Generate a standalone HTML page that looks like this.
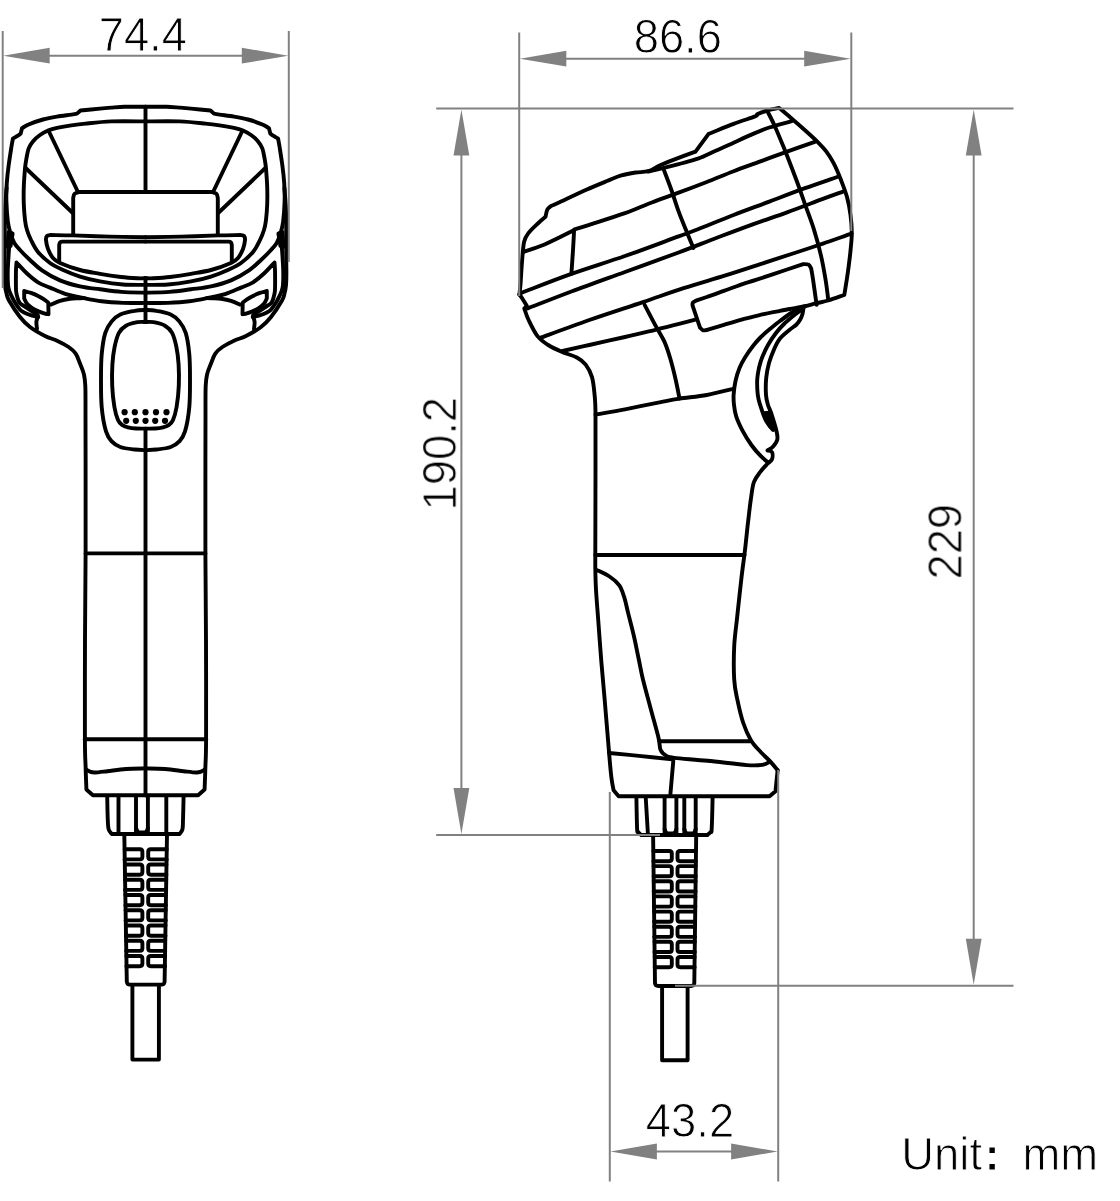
<!DOCTYPE html>
<html lang="en">
<head>
<meta charset="utf-8">
<title>Scanner dimensions</title>
<style>
html,body{margin:0;padding:0;background:#fff;}
body{width:1120px;height:1201px;overflow:hidden;}
svg{display:block;}
.ink path,.ink line,.ink rect{fill:none;stroke:#000;stroke-width:3.9;stroke-linecap:round;stroke-linejoin:round;}
.ink .fill{fill:#000;stroke:none;}
.ink circle{fill:#000;stroke:none;}
.dim line,.dim path.ln{fill:none;stroke:#818181;stroke-width:2.0;}
.dim polygon{fill:#818181;stroke:none;}
text{font-family:"Liberation Sans","Noto Sans CJK SC",sans-serif;font-size:45.4px;fill:#000;stroke:#fff;stroke-width:0.9px;}
</style>
</head>
<body>
<svg width="1120" height="1201" viewBox="0 0 1120 1201">
<rect width="1120" height="1201" fill="#fff"/>
<g class="ink" id="front">
<g id="fl">
<path d="M145.5 106.7 C143.8 106.7 138.5 106.7 135 106.7 C131.5 106.7 128.1 106.7 124.3 106.8 C120.5 106.9 116 107.3 112 107.6 C108 107.9 105.2 108.1 100 108.6 C94.8 109.1 83.8 110.2 80.5 110.5 L80.5 110.5 L77 113.6 L77 113.6 C76.1 113.8 74.7 114.1 71.4 114.6 C68.1 115.1 61.7 115.8 57 116.6 C52.3 117.4 47.7 118.2 43 119.5 C38.3 120.8 32.1 123 28.6 124.5 C25.1 126 23.1 127.6 22 128.2 L22 128.2 L20.7 133.6 L20.7 133.6 C20.2 133.9 19.2 134.9 17.9 135.7 C16.6 136.5 13.7 138.1 12.9 138.6 L12.9 138.6 C12.7 140 12.1 142.5 11.4 147 C10.7 151.5 9.4 159.7 8.6 165.7 C7.8 171.7 7.2 177.1 6.8 183 C6.4 188.9 6.2 194.9 6.4 201.4 C6.6 207.9 7.2 216.6 7.9 222 C8.6 227.4 9.6 230.5 10.7 234 C11.8 237.5 12.8 240.3 14.3 243 C15.9 245.7 17.4 247.2 20 250 C22.6 252.8 26.3 256.6 30 260 C33.7 263.4 37 266.9 42 270.3 C47 273.7 53.7 277.7 60 280.4 C66.3 283.1 73.3 284.9 80 286.4 C86.7 287.9 93.1 288.4 100 289.3 C106.9 290.2 113.8 291.3 121.4 291.9 C129 292.5 141.5 292.6 145.5 292.7"/>
<path d="M145.5 121.4 C139.8 121.4 121.4 121 111.4 121.4 C101.4 121.8 92.4 122.9 85.7 123.6 C79 124.3 76.2 124.7 71.4 125.4 C66.6 126.1 60.8 127.1 57 127.9 C53.2 128.7 51.4 129.1 48.6 130.3 C45.8 131.5 42.6 133.2 40 135 C37.4 136.8 34.8 139.1 32.9 141.4 C31 143.7 29.7 145.7 28.6 148.6 C27.5 151.5 27 155.3 26.4 158.6 C25.8 161.9 25.4 163.9 25 168.6 C24.6 173.3 24 181.1 23.8 187 C23.6 192.9 23.6 198.8 23.8 204.3 C24 209.8 24.5 215.7 25 220 C25.5 224.3 26 226.7 27 230 C28 233.3 29.2 236.3 31 240 C32.8 243.7 34.8 248.2 38 252 C41.2 255.8 46 260.1 50 263 C54 265.9 57 267.2 62 269.5 C67 271.8 73.7 274.6 80 276.6 C86.3 278.6 92.8 280.1 100 281.4 C107.2 282.7 115.4 283.9 123 284.5 C130.6 285.1 141.8 284.8 145.5 284.9"/>
<path d="M6.6 188 C6.4 190 5.9 196 5.6 200 C5.3 204 5.1 207.7 5 212 C4.9 216.3 4.8 219.7 4.8 226 C4.8 232.3 4.8 242.2 4.8 250 C4.8 257.8 4.6 267.2 4.6 273 C4.6 278.8 4.7 281.7 5 285 C5.3 288.3 5.7 290.4 6.4 293 C7.1 295.6 6.7 296.5 9 300.5 C11.3 304.5 16.5 312.6 20 317 C23.5 321.4 25.8 323.8 30 327 C34.2 330.2 40.5 333.7 45 336 C49.5 338.3 53.1 338.9 57 340.7 C60.9 342.5 65.5 344.9 68.6 347 C71.7 349.1 73.8 350.7 75.7 353.6 C77.7 356.5 78.9 360.9 80.3 364.3 C81.7 367.8 83.1 370.7 83.9 374.3 C84.7 377.9 85 379 85.3 385.7 C85.6 392.4 85.5 398.6 85.5 414.3 C85.5 430 85.6 456.9 85.6 480 C85.6 503.1 85.7 526.3 85.6 553 C85.5 579.7 85.1 609.2 85 640 C84.9 670.8 84.8 716.9 84.9 738 C85 759.1 85.3 757.8 85.6 766.4 C85.8 775 86.3 785.6 86.4 789.5 L86.4 789.5 L92.9 795.3 L145.5 795.3"/>
<path d="M11 233 C10.7 235 9.8 241.3 9.4 245 C9 248.7 8.8 251.7 8.6 255 C8.4 258.3 8.2 261.7 8 265 C7.8 268.3 7.7 271.7 7.7 275 C7.7 278.3 7.8 282.4 8 285 C8.2 287.6 8.6 288.7 9.2 290.5 C9.8 292.3 10.6 294.1 11.5 296 C12.4 297.9 13.1 299.4 14.5 301.7 C15.9 304 18.5 307.9 20.1 309.7 C21.7 311.5 22.1 311.5 24.1 312.5 C26.1 313.5 29.9 314.9 32.2 315.7 C34.6 316.4 37.2 316.8 38.2 317"/>
<path d="M8.6 232 L12.6 233.6 L10.6 246 L7.6 247 Z"/>
<path d="M37.8 315 C36.9 314.4 34.1 312.6 32.2 311.4 C30.3 310.2 28.5 309 26.5 307.6 C24.5 306.2 21.5 304.7 20.1 303.3 C18.7 301.9 18.6 301.2 18 299.3 C17.4 297.4 16.6 295.2 16.2 292 C15.8 288.8 15.9 283.7 15.9 280 C15.9 276.3 15.9 272.9 16 270 C16.1 267.1 16.4 263.8 16.5 262.5 L16.5 262.5 C18.2 264.3 23.4 270.2 27 273.5 C30.6 276.8 34.2 279.9 38 282.3 C41.8 284.7 45.3 285.6 50 287.6 C54.7 289.6 61 292.6 66 294.2 C71 295.8 74.3 296.1 80.3 297.3 C86.2 298.5 94.6 300.4 101.7 301.3 C108.8 302.2 115.8 302.6 123.1 302.9 C130.4 303.2 141.8 302.9 145.5 302.9"/>
<path d="M84 298 C83 298.1 80.3 298.2 78 298.3 C75.7 298.4 73 298.4 70 298.8 C67 299.2 63.2 299.8 60 300.8 C56.8 301.8 52.5 304 51 304.6"/>
<path d="M24.2 291 C25.3 291.3 28.6 292 31 292.9 C33.4 293.8 36.4 295.1 38.6 296.2 C40.8 297.3 42.4 298.3 44 299.4 C45.6 300.5 47.6 302.1 48.3 302.7 L48.3 302.7 L48.5 314.2 L48.5 314.2 C48 314.1 47.4 314.3 45.8 313.8 C44.1 313.3 40.9 312.3 38.6 311.4 C36.3 310.4 34.2 309.4 32.2 308.1 C30.2 306.8 28.1 305.1 26.8 303.5 C25.5 301.9 24.6 299.3 24.2 298.5 L24.2 298.5 L24.2 291"/>
<path d="M38 316.5 C37.7 317.4 36.6 319.7 36.4 321.8 C36.2 323.9 36.9 327.8 37 329"/>
<path d="M145.5 237.3 C139.6 237.2 122.1 236.9 110 236.6 C97.9 236.3 82.9 235.7 73 235.4 C63.1 235.1 54.2 235.1 50.5 235 L50.5 235 C49.9 235.2 47.8 235.2 47 236 C46.2 236.8 45.8 237.8 46 240 C46.2 242.2 46.8 246 48 249 C49.2 252 51 255.7 53 258 C55 260.3 55.5 261 60 263 C64.5 265 73.3 268.2 80 270 C86.7 271.8 93.2 272.6 100 273.8 C106.8 275 114.7 276.2 121 277 C127.3 277.8 133.9 278.1 138 278.3 C142.1 278.5 144.2 278.2 145.5 278.2"/>
<path d="M145.5 241.6 L62.5 241.6 L62.5 241.6 C62.1 241.7 60.5 241.8 60 242.4 C59.5 243 59.3 244.6 59.2 245 L59.2 245 L59.2 262"/>
<path d="M73.2 235 L73.2 198 L73.2 198 C73.4 197.3 73.5 194.8 74.5 193.8 C75.5 192.8 78.2 192.3 79 192 L79 192 L145.5 192"/>
<path d="M48.7 131 L77.7 191.5"/>
<path d="M25.6 168 L72.8 213"/>
<path d="M145.5 322 C144.2 322 140.7 321.6 137.4 322.2 C134.2 322.8 129.1 323.9 126 325.7 C122.9 327.5 120.8 329.3 118.9 332.9 C117 336.4 115.7 341.8 114.6 347 C113.5 352.2 112.8 357.9 112.4 364.3 C112 370.8 111.9 378.6 112.2 385.7 C112.5 392.8 113.4 401.3 114.4 407 C115.4 412.7 116.7 417 118 420 C119.3 423 120.3 423.6 122 424.8 C123.7 426 125.7 426.7 128 427.3 C130.3 427.9 133.1 428.3 136 428.5 C138.9 428.7 143.9 428.6 145.5 428.6"/>
<path d="M145.5 310 C143.7 310.1 138.8 310.1 134.6 310.9 C130.4 311.6 124.1 312.8 120.3 314.5 C116.5 316.2 114.2 318.3 111.7 321.4 C109.2 324.5 107 327.4 105.3 332.9 C103.6 338.4 102.4 346.7 101.7 354.3 C101 361.9 101 369.8 101 378.6 C101 387.4 100.9 398.2 101.7 407 C102.5 415.8 104.3 425.7 106 431.4 C107.7 437.1 109.3 438.8 111.7 441.4 C114.1 444 116.5 445.6 120.3 447 C124.1 448.4 130.4 449 134.6 449.5 C138.8 450 143.7 450.1 145.5 450.2"/>
<path d="M86.3 769.6 C86.9 769.9 88.6 771.1 90 771.6 C91.4 772.1 91.9 772.6 94.8 772.5 C97.7 772.4 102.1 771.8 107.3 771.2 C112.5 770.6 119.6 769.5 126 769 C132.4 768.5 142.2 768.5 145.5 768.4"/>
</g>
<g transform="translate(291,0) scale(-1,1)">
<path d="M145.5 106.7 C143.8 106.7 138.5 106.7 135 106.7 C131.5 106.7 128.1 106.7 124.3 106.8 C120.5 106.9 116 107.3 112 107.6 C108 107.9 105.2 108.1 100 108.6 C94.8 109.1 83.8 110.2 80.5 110.5 L80.5 110.5 L77 113.6 L77 113.6 C76.1 113.8 74.7 114.1 71.4 114.6 C68.1 115.1 61.7 115.8 57 116.6 C52.3 117.4 47.7 118.2 43 119.5 C38.3 120.8 32.1 123 28.6 124.5 C25.1 126 23.1 127.6 22 128.2 L22 128.2 L20.7 133.6 L20.7 133.6 C20.2 133.9 19.2 134.9 17.9 135.7 C16.6 136.5 13.7 138.1 12.9 138.6 L12.9 138.6 C12.7 140 12.1 142.5 11.4 147 C10.7 151.5 9.4 159.7 8.6 165.7 C7.8 171.7 7.2 177.1 6.8 183 C6.4 188.9 6.2 194.9 6.4 201.4 C6.6 207.9 7.2 216.6 7.9 222 C8.6 227.4 9.6 230.5 10.7 234 C11.8 237.5 12.8 240.3 14.3 243 C15.9 245.7 17.4 247.2 20 250 C22.6 252.8 26.3 256.6 30 260 C33.7 263.4 37 266.9 42 270.3 C47 273.7 53.7 277.7 60 280.4 C66.3 283.1 73.3 284.9 80 286.4 C86.7 287.9 93.1 288.4 100 289.3 C106.9 290.2 113.8 291.3 121.4 291.9 C129 292.5 141.5 292.6 145.5 292.7"/>
<path d="M145.5 121.4 C139.8 121.4 121.4 121 111.4 121.4 C101.4 121.8 92.4 122.9 85.7 123.6 C79 124.3 76.2 124.7 71.4 125.4 C66.6 126.1 60.8 127.1 57 127.9 C53.2 128.7 51.4 129.1 48.6 130.3 C45.8 131.5 42.6 133.2 40 135 C37.4 136.8 34.8 139.1 32.9 141.4 C31 143.7 29.7 145.7 28.6 148.6 C27.5 151.5 27 155.3 26.4 158.6 C25.8 161.9 25.4 163.9 25 168.6 C24.6 173.3 24 181.1 23.8 187 C23.6 192.9 23.6 198.8 23.8 204.3 C24 209.8 24.5 215.7 25 220 C25.5 224.3 26 226.7 27 230 C28 233.3 29.2 236.3 31 240 C32.8 243.7 34.8 248.2 38 252 C41.2 255.8 46 260.1 50 263 C54 265.9 57 267.2 62 269.5 C67 271.8 73.7 274.6 80 276.6 C86.3 278.6 92.8 280.1 100 281.4 C107.2 282.7 115.4 283.9 123 284.5 C130.6 285.1 141.8 284.8 145.5 284.9"/>
<path d="M6.6 188 C6.4 190 5.9 196 5.6 200 C5.3 204 5.1 207.7 5 212 C4.9 216.3 4.8 219.7 4.8 226 C4.8 232.3 4.8 242.2 4.8 250 C4.8 257.8 4.6 267.2 4.6 273 C4.6 278.8 4.7 281.7 5 285 C5.3 288.3 5.7 290.4 6.4 293 C7.1 295.6 6.7 296.5 9 300.5 C11.3 304.5 16.5 312.6 20 317 C23.5 321.4 25.8 323.8 30 327 C34.2 330.2 40.5 333.7 45 336 C49.5 338.3 53.1 338.9 57 340.7 C60.9 342.5 65.5 344.9 68.6 347 C71.7 349.1 73.8 350.7 75.7 353.6 C77.7 356.5 78.9 360.9 80.3 364.3 C81.7 367.8 83.1 370.7 83.9 374.3 C84.7 377.9 85 379 85.3 385.7 C85.6 392.4 85.5 398.6 85.5 414.3 C85.5 430 85.6 456.9 85.6 480 C85.6 503.1 85.7 526.3 85.6 553 C85.5 579.7 85.1 609.2 85 640 C84.9 670.8 84.8 716.9 84.9 738 C85 759.1 85.3 757.8 85.6 766.4 C85.8 775 86.3 785.6 86.4 789.5 L86.4 789.5 L92.9 795.3 L145.5 795.3"/>
<path d="M11 233 C10.7 235 9.8 241.3 9.4 245 C9 248.7 8.8 251.7 8.6 255 C8.4 258.3 8.2 261.7 8 265 C7.8 268.3 7.7 271.7 7.7 275 C7.7 278.3 7.8 282.4 8 285 C8.2 287.6 8.6 288.7 9.2 290.5 C9.8 292.3 10.6 294.1 11.5 296 C12.4 297.9 13.1 299.4 14.5 301.7 C15.9 304 18.5 307.9 20.1 309.7 C21.7 311.5 22.1 311.5 24.1 312.5 C26.1 313.5 29.9 314.9 32.2 315.7 C34.6 316.4 37.2 316.8 38.2 317"/>
<path d="M8.6 232 L12.6 233.6 L10.6 246 L7.6 247 Z"/>
<path d="M37.8 315 C36.9 314.4 34.1 312.6 32.2 311.4 C30.3 310.2 28.5 309 26.5 307.6 C24.5 306.2 21.5 304.7 20.1 303.3 C18.7 301.9 18.6 301.2 18 299.3 C17.4 297.4 16.6 295.2 16.2 292 C15.8 288.8 15.9 283.7 15.9 280 C15.9 276.3 15.9 272.9 16 270 C16.1 267.1 16.4 263.8 16.5 262.5 L16.5 262.5 C18.2 264.3 23.4 270.2 27 273.5 C30.6 276.8 34.2 279.9 38 282.3 C41.8 284.7 45.3 285.6 50 287.6 C54.7 289.6 61 292.6 66 294.2 C71 295.8 74.3 296.1 80.3 297.3 C86.2 298.5 94.6 300.4 101.7 301.3 C108.8 302.2 115.8 302.6 123.1 302.9 C130.4 303.2 141.8 302.9 145.5 302.9"/>
<path d="M84 298 C83 298.1 80.3 298.2 78 298.3 C75.7 298.4 73 298.4 70 298.8 C67 299.2 63.2 299.8 60 300.8 C56.8 301.8 52.5 304 51 304.6"/>
<path d="M24.2 291 C25.3 291.3 28.6 292 31 292.9 C33.4 293.8 36.4 295.1 38.6 296.2 C40.8 297.3 42.4 298.3 44 299.4 C45.6 300.5 47.6 302.1 48.3 302.7 L48.3 302.7 L48.5 314.2 L48.5 314.2 C48 314.1 47.4 314.3 45.8 313.8 C44.1 313.3 40.9 312.3 38.6 311.4 C36.3 310.4 34.2 309.4 32.2 308.1 C30.2 306.8 28.1 305.1 26.8 303.5 C25.5 301.9 24.6 299.3 24.2 298.5 L24.2 298.5 L24.2 291"/>
<path d="M38 316.5 C37.7 317.4 36.6 319.7 36.4 321.8 C36.2 323.9 36.9 327.8 37 329"/>
<path d="M145.5 237.3 C139.6 237.2 122.1 236.9 110 236.6 C97.9 236.3 82.9 235.7 73 235.4 C63.1 235.1 54.2 235.1 50.5 235 L50.5 235 C49.9 235.2 47.8 235.2 47 236 C46.2 236.8 45.8 237.8 46 240 C46.2 242.2 46.8 246 48 249 C49.2 252 51 255.7 53 258 C55 260.3 55.5 261 60 263 C64.5 265 73.3 268.2 80 270 C86.7 271.8 93.2 272.6 100 273.8 C106.8 275 114.7 276.2 121 277 C127.3 277.8 133.9 278.1 138 278.3 C142.1 278.5 144.2 278.2 145.5 278.2"/>
<path d="M145.5 241.6 L62.5 241.6 L62.5 241.6 C62.1 241.7 60.5 241.8 60 242.4 C59.5 243 59.3 244.6 59.2 245 L59.2 245 L59.2 262"/>
<path d="M73.2 235 L73.2 198 L73.2 198 C73.4 197.3 73.5 194.8 74.5 193.8 C75.5 192.8 78.2 192.3 79 192 L79 192 L145.5 192"/>
<path d="M48.7 131 L77.7 191.5"/>
<path d="M25.6 168 L72.8 213"/>
<path d="M145.5 322 C144.2 322 140.7 321.6 137.4 322.2 C134.2 322.8 129.1 323.9 126 325.7 C122.9 327.5 120.8 329.3 118.9 332.9 C117 336.4 115.7 341.8 114.6 347 C113.5 352.2 112.8 357.9 112.4 364.3 C112 370.8 111.9 378.6 112.2 385.7 C112.5 392.8 113.4 401.3 114.4 407 C115.4 412.7 116.7 417 118 420 C119.3 423 120.3 423.6 122 424.8 C123.7 426 125.7 426.7 128 427.3 C130.3 427.9 133.1 428.3 136 428.5 C138.9 428.7 143.9 428.6 145.5 428.6"/>
<path d="M145.5 310 C143.7 310.1 138.8 310.1 134.6 310.9 C130.4 311.6 124.1 312.8 120.3 314.5 C116.5 316.2 114.2 318.3 111.7 321.4 C109.2 324.5 107 327.4 105.3 332.9 C103.6 338.4 102.4 346.7 101.7 354.3 C101 361.9 101 369.8 101 378.6 C101 387.4 100.9 398.2 101.7 407 C102.5 415.8 104.3 425.7 106 431.4 C107.7 437.1 109.3 438.8 111.7 441.4 C114.1 444 116.5 445.6 120.3 447 C124.1 448.4 130.4 449 134.6 449.5 C138.8 450 143.7 450.1 145.5 450.2"/>
<path d="M86.3 769.6 C86.9 769.9 88.6 771.1 90 771.6 C91.4 772.1 91.9 772.6 94.8 772.5 C97.7 772.4 102.1 771.8 107.3 771.2 C112.5 770.6 119.6 769.5 126 769 C132.4 768.5 142.2 768.5 145.5 768.4"/>
</g>
<path d="M145.5 106.7 L145.5 192"/>
<path d="M145.5 278 L145.5 322"/>
<path d="M145.5 428.6 L145.5 795.3"/>
<path d="M85.6 553.4 L205.4 553.4"/>
<path d="M84.9 739.3 L206.1 739.3"/>
<circle cx="124.6" cy="412.2" r="3.1"/>
<circle cx="134.8" cy="412.2" r="3.1"/>
<circle cx="145.5" cy="412.2" r="3.1"/>
<circle cx="156" cy="412.2" r="3.1"/>
<circle cx="166.5" cy="412.2" r="3.1"/>
<circle cx="126.2" cy="420.8" r="3.1"/>
<circle cx="135.8" cy="420.8" r="3.1"/>
<circle cx="145.5" cy="420.8" r="3.1"/>
<circle cx="155.2" cy="420.8" r="3.1"/>
<circle cx="165" cy="420.8" r="3.1"/>
<path d="M107.2 796 C107.3 800 107.5 814.4 107.8 820 C108 825.6 108 827.2 108.7 829.5 C109.4 831.8 111.3 833.2 111.8 834 L111.8 834 L179.6 834 L179.6 834 C180.1 833.2 181.8 831.8 182.4 829.5 C183 827.2 182.8 825.6 183 820 C183.2 814.4 183.5 800 183.6 796"/>
<path d="M118.5 796 L118.5 833"/>
<path d="M136 796 L136 833"/>
<path d="M147.9 796 L147.9 833"/>
<path d="M166.3 796 L166.3 833"/>
<path d="M136 828 C136.3 828.6 137 831.1 138 831.8 C139 832.5 140.7 832.4 142 832.4 C143.3 832.4 145 832.5 146 831.8 C147 831.1 147.6 828.6 147.9 828"/>
<path d="M124.3 834 L126.8 981.6 L126.8 981.6 C126.9 982 127.1 983.3 127.6 983.8 C128.1 984.3 129.4 984.5 129.8 984.6 L129.8 984.6 L161.6 984.6 L161.6 984.6 C162 984.5 163.3 984.3 163.8 983.8 C164.3 983.3 164.5 982 164.6 981.6 L164.6 981.6 L167 834"/>
<path d="M124.6 849.2 L139.8 849.2 Q142.4 849.2 142.4 851.8 L142.4 856.8 Q142.4 859.4 139.8 859.4 L124.6 859.4"/>
<path d="M166.7 849.2 L150.8 849.2 Q148.2 849.2 148.2 851.8 L148.2 856.8 Q148.2 859.4 150.8 859.4 L166.7 859.4"/>
<path d="M124.9 864.5 L139.8 864.5 Q142.4 864.5 142.4 867.1 L142.4 872.1 Q142.4 874.7 139.8 874.7 L124.9 874.7"/>
<path d="M166.4 864.5 L150.8 864.5 Q148.2 864.5 148.2 867.1 L148.2 872.1 Q148.2 874.7 150.8 874.7 L166.4 874.7"/>
<path d="M125.1 879.7 L139.8 879.7 Q142.4 879.7 142.4 882.3 L142.4 887.3 Q142.4 889.9 139.8 889.9 L125.1 889.9"/>
<path d="M166.2 879.7 L150.8 879.7 Q148.2 879.7 148.2 882.3 L148.2 887.3 Q148.2 889.9 150.8 889.9 L166.2 889.9"/>
<path d="M125.4 895 L139.8 895 Q142.4 895 142.4 897.6 L142.4 902.6 Q142.4 905.2 139.8 905.2 L125.4 905.2"/>
<path d="M165.9 895 L150.8 895 Q148.2 895 148.2 897.6 L148.2 902.6 Q148.2 905.2 150.8 905.2 L165.9 905.2"/>
<path d="M125.6 910.2 L139.8 910.2 Q142.4 910.2 142.4 912.8 L142.4 917.8 Q142.4 920.4 139.8 920.4 L125.6 920.4"/>
<path d="M165.7 910.2 L150.8 910.2 Q148.2 910.2 148.2 912.8 L148.2 917.8 Q148.2 920.4 150.8 920.4 L165.7 920.4"/>
<path d="M125.9 925.5 L139.8 925.5 Q142.4 925.5 142.4 928.1 L142.4 933.1 Q142.4 935.7 139.8 935.7 L125.9 935.7"/>
<path d="M165.5 925.5 L150.8 925.5 Q148.2 925.5 148.2 928.1 L148.2 933.1 Q148.2 935.7 150.8 935.7 L165.5 935.7"/>
<path d="M126.2 940.7 L139.8 940.7 Q142.4 940.7 142.4 943.3 L142.4 948.3 Q142.4 950.9 139.8 950.9 L126.2 950.9"/>
<path d="M165.2 940.7 L150.8 940.7 Q148.2 940.7 148.2 943.3 L148.2 948.3 Q148.2 950.9 150.8 950.9 L165.2 950.9"/>
<path d="M126.4 956 L139.8 956 Q142.4 956 142.4 958.6 L142.4 963.6 Q142.4 966.2 139.8 966.2 L126.4 966.2"/>
<path d="M165 956 L150.8 956 Q148.2 956 148.2 958.6 L148.2 963.6 Q148.2 966.2 150.8 966.2 L165 966.2"/>
<path d="M132.4 986 L132.4 1059.6 L158.9 1059.6 L158.9 986"/>
</g>
<g class="ink" id="side">
<path d="M519.4 294.6 C519.6 292.7 520.2 288.4 520.6 283 C521 277.6 521.4 268.9 522 262 C522.6 255.1 523 246.7 524.1 241.8 C525.2 237 526.2 236 528.6 232.9 C531 229.8 535.6 225.7 538.4 223 C541.2 220.3 544.3 217.8 545.5 216.8 L545.5 216.8 C545.8 215.6 546.4 211.4 547.3 209.6 C548.2 207.8 550.4 206.6 551 206 L551 206 C552.3 205.4 553.1 205.2 558.9 202.5 C564.7 199.8 577.7 193.6 585.7 190 C593.7 186.4 601.2 183.4 607.1 181 C613 178.6 616.6 176.8 621.4 175.4 C626.2 174 631.2 173.2 635.7 172.5 C640.2 171.8 644 172.4 648.2 171.2 C652.4 169.9 655.6 167.2 660.7 165 C665.8 162.8 672.8 160.1 678.6 157.9 C684.4 155.7 692.7 152.7 695.5 151.6 L695.5 151.6 L708.6 133.8 L708.6 133.8 C712.8 132.2 725.9 126.8 733.6 123.9 C741.3 121 751 118 755 116.4 C759 114.8 755.6 115.1 757.7 114.1 C759.8 113.1 763.9 111.5 767.5 110.5 C771.1 109.5 777.2 108.3 779.1 107.9 L779.1 107.9 C781 109.5 786.4 114 790.7 117.7 C795 121.4 800.5 126.2 805 130.2 C809.5 134.2 813.9 138.2 817.5 141.8 C821.1 145.4 823.7 148 826.4 151.6 C829.1 155.2 831.2 158.6 833.6 163.2 C836 167.8 838.5 173.7 840.7 179.3 C842.9 185 845.4 191.2 847 197.1 C848.6 203 849.7 209 850.5 215 C851.3 221 851.8 227 851.8 232.9 C851.8 238.8 851.1 244.2 850.5 250.7 C849.9 257.2 848.9 264.7 847.9 272.1 C846.9 279.5 844.9 291.2 844.3 295 L844.3 295 C841.6 295.9 832.8 299.1 828.2 300.5 C823.6 301.9 820.5 302.2 816.6 303.2 C812.7 304.1 809.4 305.2 805 306.2 C800.6 307.2 794.2 308.2 790 309 C785.8 309.8 784.9 309.8 780 310.8 C775.1 311.8 766.6 313.4 760.4 314.8 C754.1 316.2 748.5 317.8 742.5 319.4 C736.5 321 730.5 322.9 724.6 324.7 C718.7 326.4 709.9 329 707 329.9"/>
<path d="M648.2 171.5 C650.3 171 655.6 169.8 660.7 168.6 C665.8 167.4 672.4 165.8 678.6 164.1 C684.8 162.4 691.7 160.9 697.9 158.7 C704.1 156.5 709.8 153.4 715.7 150.7 C721.7 148 727.7 145.4 733.6 142.7 C739.5 140 745.5 137.1 751.4 134.6 C757.3 132.1 762.6 129.7 769.3 127.5 C776 125.3 787.9 122.2 791.6 121.2"/>
<path d="M523.6 251.8 C527.1 250.6 536.6 247.9 544.6 244.5 C552.6 241.1 566.4 234 571.4 231.5 C576.4 229 574 229.7 574.5 229.3 L574.5 229.3 C577 228.6 580.9 227.5 589.3 224.8 C597.7 222.1 614.6 216.9 625 213.2 C635.4 209.5 642.9 205.9 651.8 202.5 C660.7 199.1 669.4 196.1 678.6 192.7 C687.8 189.3 697.6 185.6 706.8 182 C716 178.4 724.7 174.6 733.6 171.2 C742.5 167.8 751.5 164.7 760.4 161.4 C769.3 158.1 778 154.9 787.1 151.6 C796.2 148.3 810.2 143.4 814.8 141.8"/>
<path d="M574.1 230.2 C573.9 233.5 573.5 242.7 573 250 C572.5 257.3 571.7 269.9 571.4 273.9"/>
<path d="M520.6 293.6 C521.6 293.1 518.3 294.1 526.8 290.8 C535.3 287.5 555 279.7 571.4 273.9 C587.8 268.1 607.1 262.2 625 256 C642.9 249.8 666.5 240.8 678.6 236.4 C690.8 232 688.7 232.9 697.9 229.3 C707.1 225.7 721.7 219.6 733.6 215 C745.5 210.4 757.4 206.1 769.3 201.6 C781.2 197.1 793.7 192.3 805 188.2 C816.3 184.1 831.8 178.9 837.1 177"/>
<path d="M527.7 308.4 C535 305.6 555.2 297.6 571.4 291.5 C587.6 285.4 607.1 278.5 625 272 C642.9 265.5 663.5 258.1 678.6 252.5 C693.7 246.9 703.6 242.8 715.7 238.2 C727.8 233.6 739.5 229.1 751.4 224.8 C763.3 220.5 775.2 216.6 787.1 212.3 C799 208 813.7 202.3 822.9 198.9 C832.1 195.5 839.2 193 842.5 191.8"/>
<path d="M663.4 168.6 C664.7 172.2 668.9 182.9 671.4 190 C673.9 197.1 676.2 204.8 678.6 211.4 C681 218 683.2 223.2 685.7 229.3 C688.2 235.4 692.1 244.9 693.4 248"/>
<path d="M767.5 111.4 C768.7 113.8 771.9 119.8 774.6 125.7 C777.3 131.7 780 138.2 783.6 147.1 C787.2 156 792.5 169.8 796.1 179.3 C799.7 188.8 802 196 805 204.3 C808 212.6 811.2 220.7 813.9 229.3 C816.6 237.9 819.2 247.8 821.1 256.1 C823 264.4 824.3 272.1 825.5 279.3 C826.7 286.5 827.8 296.1 828.2 299.5"/>
<path d="M540.2 337.9 C548.4 334.9 572.2 326 589.3 320 C606.4 314 627.2 307.4 642.9 302.1 C658.6 296.8 670 292.6 683.6 288.2 C697.2 283.8 711.8 279.7 724.6 275.7 C737.4 271.7 748.5 268 760.4 264.1 C772.3 260.2 785.7 255.9 796.1 252.5 C806.5 249.1 813.7 246.7 822.9 243.6 C832.1 240.5 846.6 235.3 851.4 233.7"/>
<path d="M707 329.9 C706.3 330 704.2 330.7 703 330.3 C701.8 329.9 700.5 328.1 700 327.6 L700 327.6 L692.6 305.6 L692.6 305.6 C692.6 305.1 692.2 303.4 692.8 302.6 C693.4 301.8 695.5 300.9 696 300.6 L696 300.6 C697.8 300 702 298.6 706.8 297 C711.6 295.4 718.6 292.8 724.6 290.7 C730.6 288.6 737.3 285.9 742.5 284.1 C747.7 282.3 748.5 282.3 755.9 279.9 C763.3 277.5 779.2 272.1 787.1 269.5 C795 266.9 800.5 265 803.2 264.1 L803.2 264.1 C804.1 264.2 807.3 263.9 808.6 264.6 C809.9 265.4 810.8 267.9 811.2 268.6 L811.2 268.6 C811.5 270.4 812.1 273.3 813 279.3 C813.9 285.3 816 300.6 816.6 304.8"/>
<path d="M519.4 294.6 L521.5 297.2 L526.8 305.7 L524.3 308.6 L524.3 308.6 C525 310.5 526.4 315.4 528.6 320 C530.8 324.6 534.2 331.9 537.5 336.1 C540.8 340.3 544 342.3 548.2 345 C552.4 347.7 557.7 350 562.5 352.1 C567.3 354.2 572.9 355.4 576.8 357.5 C580.7 359.6 583.2 361.3 585.7 364.6 C588.2 367.9 590.5 372 592 377.1 C593.5 382.2 594 388.8 594.6 395 C595.2 401.2 595.4 402.1 595.5 414.6 C595.6 427.1 595.5 446.6 595.5 470 C595.5 493.4 595.3 538.7 595.3 555 C595.3 571.3 595.2 561.7 595.3 567.7 C595.4 573.8 595.5 581.5 596.1 591.3 C596.7 601.1 597.9 615.1 598.7 626.6 C599.6 638.1 600.2 648 601.2 660 C602.2 672 603.3 683.4 604.6 698.9 C605.9 714.4 608 739.9 609.1 753 C610.2 766.1 610.6 771.3 611.4 777.5 C612.1 783.7 613.2 788.2 613.6 790.3 L613.6 790.3 L618.6 796.2 L769.6 796.2 L775.5 791.3 L777.6 770.2"/>
<path d="M562.5 351 C567 350 578.9 347.3 589.3 345 C599.7 342.7 614 339.5 625 337 C636 334.5 646.2 332 655.4 329.8 C664.6 327.6 673.3 325.4 680 323.7 C686.7 322 693 320.3 695.6 319.6"/>
<path d="M644.6 304.8 C646.4 308.2 652.1 319.3 655.4 325.4 C658.7 331.5 661.8 335.8 664.3 341.4 C666.8 347 668.6 352.8 670.5 359.3 C672.4 365.9 674.4 374.1 675.9 380.7 C677.4 387.2 678.9 395.6 679.5 398.6"/>
<path d="M595.5 414.6 C600.4 413.7 614.1 411.4 625 409.3 C635.9 407.2 651.6 403.9 660.7 402.1 C669.8 400.3 671.8 399.8 679.5 398.6 C687.2 397.4 697.7 396.7 706.8 395 C715.9 393.3 729.6 389.7 734.2 388.6"/>
<path d="M805 306.4 C802.8 307.4 796.2 310.1 792 312.5 C787.8 314.9 783.8 318.2 780 321 C776.2 323.8 772.6 326.8 769.3 329.5 C766 332.2 763.1 334.8 760.4 337.5 C757.7 340.2 755.8 342.5 753.2 345.8 C750.6 349.1 747.3 353.8 745 357.5 C742.7 361.2 741.1 364.1 739.5 368 C737.9 371.9 736.5 376.5 735.5 381 C734.5 385.5 733.9 391 733.6 395 C733.4 399 733.6 401.4 734 405 C734.4 408.6 734.8 412.1 736.2 416.4 C737.6 420.7 740 425.9 742.5 430.7 C745 435.5 748.4 440.8 751.4 445 C754.4 449.2 757.7 452.9 760.4 455.7 C763.1 458.5 766.3 460.9 767.5 462"/>
<path d="M803.2 308.5 C801.8 309.5 798.2 311.9 795 314.5 C791.8 317.1 787.2 320.9 784 324 C780.8 327.1 778.7 329.5 776 333 C773.3 336.5 770.3 341 768 345 C765.7 349 763.8 353.3 762.3 357 C760.8 360.7 760.1 363.2 759.2 367 C758.4 370.8 757.4 375.3 757.2 380 C757 384.7 757.3 390.7 757.8 395 C758.3 399.3 759.1 401.5 760.4 405.7 C761.7 409.9 763.6 416 765.7 420 C767.8 424 771.7 428.2 772.9 429.8"/>
<path d="M803.5 307.5 C803.4 308.5 803.1 311.6 802.6 313.5 C802.1 315.4 801.5 317.2 800.5 319 C799.5 320.8 798.2 322.8 796.5 324.5 C794.8 326.2 792.8 327.2 790 329.5 C787.2 331.8 782.7 335.2 780 338.5 C777.3 341.8 775.8 345.4 774 349.5 C772.2 353.6 770.3 358.2 769 363 C767.7 367.8 766.7 372.7 766.2 378 C765.7 383.3 765.7 390.5 766 395 C766.3 399.5 767.1 402 768 405 C768.9 408 769.7 408.6 771.1 412.9 C772.5 417.2 775.4 426.2 776.4 430.7 C777.4 435.1 777.9 436.9 777.3 439.6 C776.7 442.3 774.5 445 772.9 446.8 C771.3 448.6 768.4 449.8 767.5 450.4 L767.5 450.4 C768.2 450.7 771.2 450.6 772 452.1 C772.8 453.6 772.8 457.4 772 459.3 C771.2 461.2 769.4 461.7 767.5 463.7 C765.6 465.7 763 468.3 760.7 471.4 C758.4 474.5 755.5 477.6 753.9 482.2 C752.3 486.8 751.9 492.2 750.9 498.9 C749.9 505.6 749 514 748 522.5 C747 531 746.1 540.8 745 550 C743.9 559.2 742.8 566.4 741.5 577.5 C740.2 588.6 738.4 605.3 737.2 616.8 C736 628.3 734.7 635.9 734.2 646.3 C733.7 656.7 733.7 670.5 734.2 679.3 C734.7 688.1 735.7 691.7 737.2 698.9 C738.7 706.1 740.8 715.6 743.1 722.5 C745.4 729.4 748 735.3 750.9 740.2 C753.8 745.1 757.4 748.4 760.7 752 C764 755.6 767.8 758.8 770.6 761.8 C773.4 764.8 776.4 768.8 777.6 770.2"/>
<path d="M763.5 411.3 L770.4 410.8 L772.5 417.5 L775 421.7 L777 430.8 L773.3 431.7 L768.3 427.5 L764.2 420 Z" class="fill"/>
<path d="M595.3 555 L744.6 555"/>
<path d="M596.1 569.7 C598.3 570.8 605.6 573.9 609.5 576.5 C613.4 579.1 616.8 581.9 619.3 585.4 C621.8 588.9 622.7 592.6 624.2 597.2 C625.7 601.8 626.5 606.4 628.1 612.9 C629.7 619.4 632.2 628.6 634 636.5 C635.8 644.4 637.4 652.9 638.9 660 C640.4 667.1 640.9 671.2 642.9 679.3 C644.9 687.4 648.1 699 650.7 708.8 C653.3 718.6 657 731.3 658.6 738.2 C660.2 745.1 659.3 747 660.6 750 C661.9 753 664.1 754.6 666.4 755.9 C668.7 757.2 667.4 757.1 674.3 757.9 C681.2 758.7 695.6 759.6 707.7 760.8 C719.8 762 737.8 764.4 747 765.1 C756.2 765.8 758.9 765.3 762.7 764.8 C766.5 764.2 768.5 762.3 769.6 761.8"/>
<path d="M659.6 741.2 L749.9 741.2"/>
<path d="M609.1 753 C614.1 753.5 628.4 754.8 638.9 755.9 C649.4 757 666.7 758.8 672.3 759.4"/>
<path d="M673.3 760.8 L670.4 794.2"/>
<path d="M636.4 797 C636.5 802.3 636.8 822.8 637.1 828.6 C637.4 834.4 637.5 830.9 638.2 832 C638.9 833.1 640.7 834.5 641.2 835 L641.2 835 L707.4 835 L707.4 835 C707.9 834.5 709.9 833.1 710.6 832 C711.3 830.9 711.4 834.4 711.7 828.6 C712 822.8 712.5 802.3 712.6 797"/>
<path d="M645.7 797 L647.9 834"/>
<path d="M664.6 797 L664.6 834"/>
<path d="M676.4 797 L676.4 834"/>
<path d="M684.3 797 L684.3 834"/>
<path d="M695.7 797 L695.7 834"/>
<path d="M664.6 829 C664.9 829.6 665.5 832.1 666.5 832.8 C667.5 833.5 669.2 833.4 670.5 833.4 C671.8 833.4 673.5 833.5 674.5 832.8 C675.5 832.1 676.1 829.6 676.4 829"/>
<path d="M684.3 829 C684.6 829.6 685 832.1 686 832.8 C687 833.5 688.7 833.4 690 833.4 C691.3 833.4 693 833.5 694 832.8 C695 832.1 695.4 829.6 695.7 829"/>
<path d="M653.1 835 L655 983 L655 983 C655.1 983.4 655.3 984.7 655.8 985.2 C656.3 985.7 657.6 985.9 658 986 L658 986 L691.3 986 L691.3 986 C691.7 985.9 693 985.7 693.5 985.2 C694 984.7 694.2 983.4 694.3 983 L694.3 983 L696.2 835"/>
<path d="M653.4 851 L669.2 851 Q671.8 851 671.8 853.6 L671.8 858.6 Q671.8 861.2 669.2 861.2 L653.4 861.2"/>
<path d="M695.9 851 L680.1 851 Q677.5 851 677.5 853.6 L677.5 858.6 Q677.5 861.2 680.1 861.2 L695.9 861.2"/>
<path d="M653.6 866.1 L669.2 866.1 Q671.8 866.1 671.8 868.7 L671.8 873.7 Q671.8 876.3 669.2 876.3 L653.6 876.3"/>
<path d="M695.7 866.1 L680.1 866.1 Q677.5 866.1 677.5 868.7 L677.5 873.7 Q677.5 876.3 680.1 876.3 L695.7 876.3"/>
<path d="M653.7 881.3 L669.2 881.3 Q671.8 881.3 671.8 883.9 L671.8 888.9 Q671.8 891.5 669.2 891.5 L653.7 891.5"/>
<path d="M695.6 881.3 L680.1 881.3 Q677.5 881.3 677.5 883.9 L677.5 888.9 Q677.5 891.5 680.1 891.5 L695.6 891.5"/>
<path d="M653.9 896.4 L669.2 896.4 Q671.8 896.4 671.8 899 L671.8 904 Q671.8 906.6 669.2 906.6 L653.9 906.6"/>
<path d="M695.4 896.4 L680.1 896.4 Q677.5 896.4 677.5 899 L677.5 904 Q677.5 906.6 680.1 906.6 L695.4 906.6"/>
<path d="M654.1 911.6 L669.2 911.6 Q671.8 911.6 671.8 914.2 L671.8 919.2 Q671.8 921.8 669.2 921.8 L654.1 921.8"/>
<path d="M695.2 911.6 L680.1 911.6 Q677.5 911.6 677.5 914.2 L677.5 919.2 Q677.5 921.8 680.1 921.8 L695.2 921.8"/>
<path d="M654.3 926.7 L669.2 926.7 Q671.8 926.7 671.8 929.3 L671.8 934.3 Q671.8 936.9 669.2 936.9 L654.3 936.9"/>
<path d="M695 926.7 L680.1 926.7 Q677.5 926.7 677.5 929.3 L677.5 934.3 Q677.5 936.9 680.1 936.9 L695 936.9"/>
<path d="M654.5 941.8 L669.2 941.8 Q671.8 941.8 671.8 944.4 L671.8 949.4 Q671.8 952 669.2 952 L654.5 952"/>
<path d="M694.8 941.8 L680.1 941.8 Q677.5 941.8 677.5 944.4 L677.5 949.4 Q677.5 952 680.1 952 L694.8 952"/>
<path d="M654.7 957 L669.2 957 Q671.8 957 671.8 959.6 L671.8 964.6 Q671.8 967.2 669.2 967.2 L654.7 967.2"/>
<path d="M694.6 957 L680.1 957 Q677.5 957 677.5 959.6 L677.5 964.6 Q677.5 967.2 680.1 967.2 L694.6 967.2"/>
<path d="M662.1 987 L662.1 1060.3 L687.6 1060.3 L687.6 987"/>
</g>
<g class="dim">
<line x1="2.7" y1="31" x2="2.7" y2="288"/>
<line x1="288.8" y1="31" x2="288.8" y2="262"/>
<line x1="40" y1="55.7" x2="250" y2="55.7"/>
<polygon points="3.2,55.7 49.7,47.8 49.7,63.6"/>
<polygon points="288.3,55.7 241.8,47.8 241.8,63.6"/>
<line x1="519.2" y1="32.5" x2="519.2" y2="296"/>
<line x1="851.3" y1="32.5" x2="851.3" y2="231"/>
<line x1="556" y1="58.7" x2="814" y2="58.7"/>
<polygon points="519.8,58.7 566.3,50.8 566.3,66.6"/>
<polygon points="850.7,58.7 804.2,50.8 804.2,66.6"/>
<line x1="436.2" y1="108.4" x2="1013.5" y2="108.4"/>
<line x1="461.4" y1="146" x2="461.4" y2="798"/>
<polygon points="461.4,109.4 453.5,155.4 469.3,155.4"/>
<polygon points="461.4,834 453.5,788 469.3,788"/>
<line x1="436.2" y1="835" x2="660" y2="835"/>
<line x1="973.7" y1="146" x2="973.7" y2="948"/>
<polygon points="973.7,109.4 965.8,155.4 981.6,155.4"/>
<polygon points="973.7,984.7 965.8,938.7 981.6,938.7"/>
<line x1="675" y1="985.7" x2="1013.5" y2="985.7"/>
<line x1="609.8" y1="792" x2="609.8" y2="1181.5"/>
<line x1="778.2" y1="770" x2="778.2" y2="1181.5"/>
<line x1="648" y1="1151.5" x2="740" y2="1151.5"/>
<polygon points="610.4,1151.5 656.9,1143.6 656.9,1159.4"/>
<polygon points="777.6,1151.5 731.1,1143.6 731.1,1159.4"/>
</g>
<g id="labels" style="opacity:0.999">
<text transform="translate(142.8,50.9) scale(1,1.04)" text-anchor="middle">74.4</text>
<text transform="translate(677.8,52.6) scale(1,1.04)" text-anchor="middle">86.6</text>
<text transform="translate(690,1136.7) scale(1,1.04)" text-anchor="middle">43.2</text>
<text transform="translate(455.9,453.7) rotate(-90) scale(1,1.04)" text-anchor="middle">190.2</text>
<text transform="translate(961.3,541.7) rotate(-90) scale(1,1.04)" text-anchor="middle">229</text>
<text transform="translate(0,1169.6) scale(1,1.03)"><tspan x="901.3">Unit</tspan><tspan x="969.6" dy="2.2" font-family="Liberation Sans, IPAGothic, sans-serif" stroke="none">：</tspan><tspan x="1022.5" dy="-2.2">mm</tspan></text>
</g>
</svg>
</body>
</html>
